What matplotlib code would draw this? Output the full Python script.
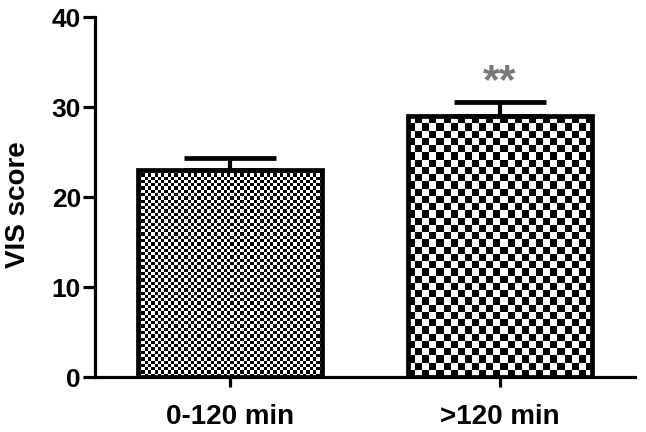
import numpy as np
import matplotlib
matplotlib.use("Agg")
import matplotlib.pyplot as plt

categories = ["0-120 min", ">120 min"]
means = [23.0, 29.0]
sems = [1.4, 1.6]
cell_px = [3.3, 7.2]
yticks = [0, 10, 20, 30, 40]
ylabel = "VIS score"
sig_label = "**"

plt.rcParams['font.family'] = ['Liberation Sans', 'DejaVu Sans']
plt.rcParams['font.weight'] = 'bold'

fig = plt.figure(figsize=(6.46, 4.32), dpi=100)
ax = fig.add_axes([0.147, 0.127, 0.836, 0.833])
x = np.arange(len(categories))
ax.set_xlim(-0.5, 1.5)
ax.set_ylim(0, 40)

bars = ax.bar(x, means, width=0.684, facecolor='none', edgecolor='black',
              linewidth=3.4, zorder=3)

fig.canvas.draw()
for b, c in zip(bars, cell_px):
    bx, bw, bh = b.get_x(), b.get_width(), b.get_height()
    p0 = ax.transData.transform((bx, 0))
    p1 = ax.transData.transform((bx + bw, bh))
    nx = max(1, int(round((p1[0] - p0[0]) / c)))
    ny = max(1, int(round((p1[1] - p0[1]) / c)))
    img = (np.indices((ny, nx)).sum(axis=0) % 2).astype(float)
    im = ax.imshow(img, cmap='gray', extent=(bx, bx + bw, 0, bh), origin='lower',
                   interpolation='nearest', aspect='auto', zorder=2, vmin=0, vmax=1)
    im.set_clip_path(b)

ax.set_xlim(-0.5, 1.5)
ax.set_ylim(0, 40)

ax.errorbar(x, means, yerr=[np.zeros(len(means)), sems], fmt='none',
            ecolor='black', elinewidth=3, capsize=33, capthick=3.4, zorder=4)

ax.annotate(sig_label, xy=(x[1], means[1] + sems[1]), xytext=(0, 0),
            textcoords='offset points', ha='center', va='bottom',
            fontsize=31, fontweight='bold', color='#7a7a7a')

ax.set_xticks(x)
ax.set_xticklabels(categories, fontsize=20, fontweight='bold')
ax.set_yticks(yticks)
ax.set_yticklabels([str(t) for t in yticks], fontsize=19, fontweight='bold')
ax.set_ylabel(ylabel, fontsize=20, fontweight='bold', va='center')
ax.yaxis.set_label_coords(-0.142, 0.48)

for s in ['top', 'right']:
    ax.spines[s].set_visible(False)
for s in ['left', 'bottom']:
    ax.spines[s].set_linewidth(2.3)
ax.tick_params(axis='y', length=9, width=2.3, pad=1)
ax.tick_params(axis='x', length=7, width=2.3, pad=12)

fig.savefig("out.png", dpi=100)
